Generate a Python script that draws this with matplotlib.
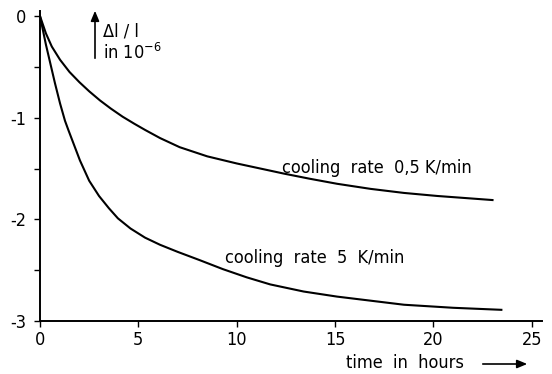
import matplotlib
matplotlib.use("Agg")
import matplotlib.pyplot as plt
from matplotlib.patches import FancyArrowPatch

# data
t_slow = [0, 0.3, 0.6, 1.02, 1.5, 2.0, 2.5, 3.05, 3.6, 4.2, 4.8, 5.34, 6.1, 7.1, 8.5,
          10.0, 11.2, 12.4, 13.7, 15.1, 16.8, 18.5, 20.2, 21.6, 23.0]
y_slow = [0, -0.17, -0.30, -0.43, -0.55, -0.65, -0.74, -0.83, -0.91, -0.99, -1.06, -1.12,
          -1.20, -1.29, -1.38, -1.45, -1.50, -1.55, -1.60, -1.65, -1.70, -1.74, -1.77,
          -1.79, -1.81]

t_fast = [0, 0.3, 0.76, 1.02, 1.27, 1.44, 2.03, 2.5, 3.0, 3.5, 3.96, 4.6, 5.34, 6.1, 7.0,
          8.1, 9.3, 10.5, 11.7, 13.4, 15.1, 16.8, 18.5, 21.0, 23.45]
y_fast = [0, -0.28, -0.66, -0.86, -1.03, -1.12, -1.42, -1.62, -1.77, -1.89, -1.99, -2.09,
          -2.18, -2.25, -2.32, -2.40, -2.49, -2.57, -2.64, -2.71, -2.76, -2.80, -2.84,
          -2.87, -2.89]

xticks = [0, 5, 10, 15, 20, 25]
yticks = [0, -1, -2, -3]
yminor = [-0.5, -1.5, -2.5]

plt.rcParams['font.family'] = ['DejaVu Sans']
plt.rcParams['font.stretch'] = 'condensed'

W, H = 552, 374
fig = plt.figure(figsize=(W/100, H/100), dpi=100)
ax = fig.add_axes([40/W, 53/H, (541.7-40)/W, (321-11)/H])

ax.plot(t_slow, y_slow, color='black', lw=1.5)
ax.plot(t_fast, y_fast, color='black', lw=1.5)

ax.set_xlim(0, 25.5)
ax.set_ylim(-3, 0.05)
ax.spines['top'].set_visible(False)
ax.spines['right'].set_visible(False)
for s in ('left', 'bottom'):
    ax.spines[s].set_linewidth(1.4)

ax.set_xticks(xticks)
ax.set_xticklabels([str(v) for v in xticks])
ax.set_yticks(yticks)
ax.set_yticklabels([str(v) for v in yticks])
ax.set_yticks(yminor, minor=True)
ax.tick_params(axis='both', which='both', direction='out', width=1.0, labelsize=13)
ax.tick_params(axis='both', which='major', length=4)
ax.tick_params(axis='y', which='minor', length=4)
ax.tick_params(axis='x', pad=3)
ax.tick_params(axis='y', pad=6)


def px(x, y):
    return x / W, 1 - y / H


fig.text(*px(282, 168), 'cooling  rate  0,5 K/min', fontsize=13, ha='left', va='center')
fig.text(*px(225, 258), 'cooling  rate  5  K/min', fontsize=13, ha='left', va='center')

# y-axis label with arrow
fig.text(*px(103, 31), 'Δl / l', fontsize=13, ha='left', va='center')
fig.text(*px(103, 53), 'in 10$^{-6}$', fontsize=13, ha='left', va='center')
fig.add_artist(FancyArrowPatch(px(95, 61), px(95, 8), transform=fig.transFigure,
                               arrowstyle='-|>,head_length=6,head_width=2.5',
                               color='black', lw=1.2))

fig.text(*px(346, 363), 'time  in  hours', fontsize=13, ha='left', va='center')
fig.add_artist(FancyArrowPatch(px(480, 364), px(530, 364), transform=fig.transFigure,
                               arrowstyle='-|>,head_length=6,head_width=2.5',
                               color='black', lw=1.2))

fig.savefig('out.png', dpi=100)
